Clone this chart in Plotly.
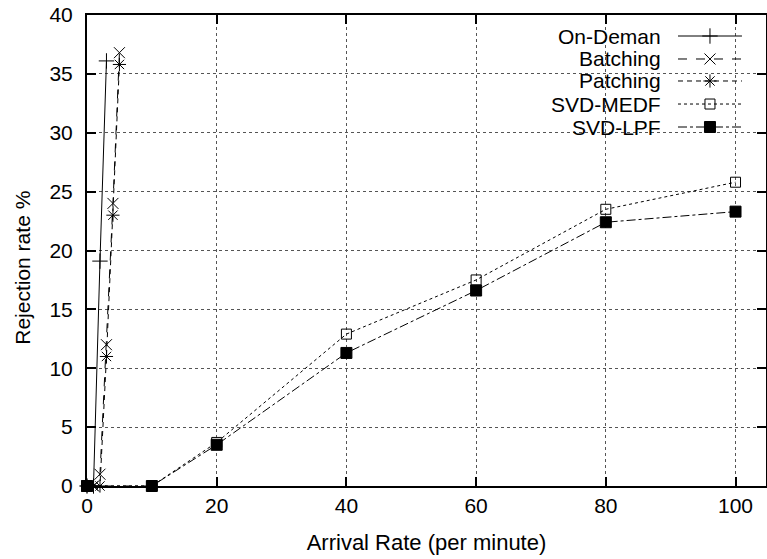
import plotly.graph_objects as go

# ---- data ----
on_demand_x = [0, 1, 2, 3]
on_demand_y = [0, 0, 19.1, 36.1]

batching_x = [0, 1, 2, 3, 4, 5]
batching_y = [0, 0, 1.0, 12.0, 24.0, 36.8]

patching_x = [0, 1, 2, 3, 4, 5]
patching_y = [0, 0, 0, 11.0, 23.0, 35.8]

svd_x = [0, 10, 20, 40, 60, 80, 100]
medf_y = [0, 0, 3.7, 12.9, 17.5, 23.5, 25.8]
lpf_y = [0, 0, 3.5, 11.3, 16.6, 22.4, 23.3]

series_names = ["On-Deman", "Batching", "Patching", "SVD-MEDF", "SVD-LPF"]
x_ticks = [0, 20, 40, 60, 80, 100]
y_ticks = [0, 5, 10, 15, 20, 25, 30, 35, 40]

FONT = "Liberation Sans, Arial, sans-serif"
FS = 21

styles = [
    dict(dash="solid", symbol="cross-thin-open", size=11),
    dict(dash="dash", symbol="x-thin-open", size=11),
    dict(dash="5px,4px", symbol="asterisk-open", size=11),
    dict(dash="dot", symbol="square-open", size=10),
    dict(dash="dashdot", symbol="square", size=11),
]

data = [
    (on_demand_x, on_demand_y),
    (batching_x, batching_y),
    (patching_x, patching_y),
    (svd_x, medf_y),
    (svd_x, lpf_y),
]

fig = go.Figure()
for name, (xs, ys), st in zip(series_names, data, styles):
    fig.add_trace(go.Scatter(
        x=xs, y=ys, mode="lines+markers", name=name,
        line=dict(color="black", width=1, dash=st["dash"]),
        marker=dict(symbol=st["symbol"], size=st["size"], color="black",
                    line=dict(color="black", width=1)),
        cliponaxis=False, showlegend=False,
    ))

# ---- custom gnuplot-style key (text left, sample right) ----
key_rows = [0.9554, 0.9066, 0.8599, 0.811, 0.7622]
key_text_x = 0.8484
key_x0, key_x1 = 0.8704, 0.9646
key_mid = (key_x0 + key_x1) / 2
shapes = []
annotations = []
for name, st, ky in zip(series_names, styles, key_rows):
    annotations.append(dict(
        x=key_text_x, y=ky, xref="paper", yref="paper", text=name,
        showarrow=False, xanchor="right", yanchor="middle",
        font=dict(family=FONT, size=FS, color="black"),
    ))
    shapes.append(dict(
        type="line", xref="paper", yref="paper", x0=key_x0, x1=key_x1,
        y0=ky, y1=ky, line=dict(color="black", width=1, dash=st["dash"]),
    ))
    fig.add_trace(go.Scatter(
        x=[key_mid], y=[ky], xaxis="x2", yaxis="y2", mode="markers",
        marker=dict(symbol=st["symbol"], size=st["size"], color="black",
                    line=dict(color="black", width=1)),
        showlegend=False, hoverinfo="skip", cliponaxis=False,
    ))

annotations.append(dict(
    x=-0.0945, y=0.463, xref="paper", yref="paper", text="Rejection rate %",
    showarrow=False, textangle=-90, xanchor="center", yanchor="middle",
    font=dict(family=FONT, size=FS, color="black"),
))

fig.update_layout(
    width=767, height=559,
    margin=dict(l=86.5, r=1, t=15, b=73),
    paper_bgcolor="white", plot_bgcolor="white",
    font=dict(family=FONT, size=FS, color="black"),
    showlegend=False,
    shapes=shapes, annotations=annotations,
    xaxis=dict(
        range=[0, 104.7], tickvals=x_ticks, ticktext=[str(v) for v in x_ticks],
        ticks="inside", ticklen=9, tickwidth=1.5, tickcolor="black",
        showline=True, linecolor="black", linewidth=2, mirror="ticks",
        showgrid=True, gridcolor="#555", griddash="dot", gridwidth=1,
        zeroline=False, automargin=False, ticklabeloverflow="allow",
        title=dict(text="Arrival Rate (per minute)", standoff=18,
                   font=dict(family=FONT, size=22)),
        tickfont=dict(family=FONT, size=FS),
    ),
    yaxis=dict(
        range=[0, 40], tickvals=y_ticks, ticktext=[str(v) for v in y_ticks],
        ticks="inside", ticklen=9, tickwidth=1.5, tickcolor="black",
        showline=True, linecolor="black", linewidth=2, mirror="ticks",
        showgrid=True, gridcolor="#555", griddash="dot", gridwidth=1,
        zeroline=False, automargin=False, ticklabelstandoff=8,
        ticklabeloverflow="allow",
        tickfont=dict(family=FONT, size=FS),
    ),
    xaxis2=dict(range=[0, 1], overlaying="x", visible=False, fixedrange=True),
    yaxis2=dict(range=[0, 1], overlaying="y", visible=False, fixedrange=True),
)

fig.write_html("out.html", config={"displayModeBar": False},
               post_script="document.body.style.margin='0px';")
